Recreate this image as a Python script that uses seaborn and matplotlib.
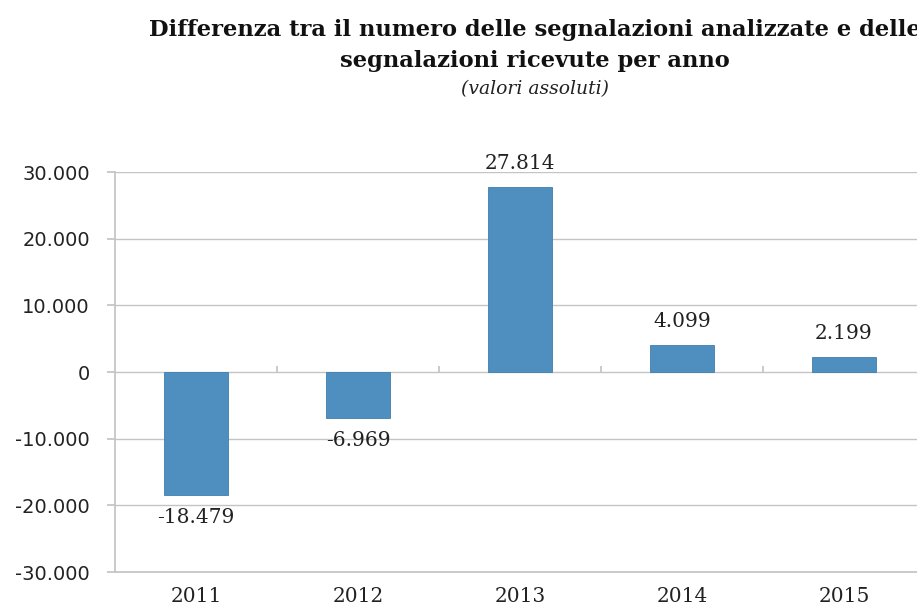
import matplotlib
matplotlib.use("Agg")
import matplotlib.pyplot as plt
import seaborn as sns
import pandas as pd

years = ["2011", "2012", "2013", "2014", "2015"]
differences = [-18479, -6969, 27814, 4099, 2199]
y_ticks = [-30000, -20000, -10000, 0, 10000, 20000, 30000]

title_line1 = "Differenza tra il numero delle segnalazioni analizzate e delle"
title_line2 = "segnalazioni ricevute per anno"
subtitle = "(valori assoluti)"


def it_number(v):
    return f"{v:,.0f}".replace(",", ".")


sns.set_theme(style="white")
plt.rcParams["font.family"] = ["DejaVu Sans"]

df = pd.DataFrame({"anno": years, "diff": differences})

fig = plt.figure(figsize=(9.17, 6.10), dpi=100)
ax = fig.add_axes([115 / 917, 38 / 610, 810 / 917, 400 / 610])

sns.barplot(data=df, x="anno", y="diff", ax=ax, color="#4f8fc0",
            saturation=1, width=0.39, edgecolor="#3f7fae", linewidth=0.6)

ax.set_ylim(-30000, 30000)
ax.set_xlim(-0.5, 4.5)
ax.set_yticks(y_ticks)
ax.set_yticklabels([it_number(v) for v in y_ticks], fontsize=14,
                   color="#222222", family="DejaVu Sans")
ax.set_xticks(range(len(years)))
ax.set_xticklabels(years, fontsize=14.5, family="DejaVu Serif", color="#222222")
ax.set_xlabel("")
ax.set_ylabel("")

grid_col = "#c4c4c4"
ax.yaxis.grid(True, color=grid_col, linewidth=1.0)
ax.set_axisbelow(True)
for side in ("top", "right"):
    ax.spines[side].set_visible(False)
ax.spines["left"].set_color(grid_col)
ax.spines["bottom"].set_color(grid_col)
ax.tick_params(axis="y", left=True, length=6, color=grid_col, pad=12)
ax.tick_params(axis="x", bottom=False, pad=5)

# category separator ticks on the zero line
sec = ax.secondary_xaxis(0.5)
sec.set_xticks([0.5, 1.5, 2.5, 3.5])
sec.set_xticklabels([])
sec.tick_params(length=4, color=grid_col, direction="out")
for sp in sec.spines.values():
    sp.set_visible(False)

for i, v in enumerate(differences):
    ax.annotate(it_number(v), xy=(i, v), xytext=(0, 10 if v >= 0 else -9),
                textcoords="offset points", ha="center",
                va="bottom" if v >= 0 else "top",
                fontsize=14.5, family="DejaVu Serif", color="#222222")

title_x = 535 / 917
fig.text(title_x, 1 - 30 / 610, title_line1, ha="center", va="center",
         fontsize=16.3, fontweight="bold", family="DejaVu Serif", color="#111111")
fig.text(title_x, 1 - 61 / 610, title_line2, ha="center", va="center",
         fontsize=16.3, fontweight="bold", family="DejaVu Serif", color="#111111")
fig.text(title_x, 1 - 89 / 610, subtitle, ha="center", va="center",
         fontsize=13.5, style="italic", family="DejaVu Serif", color="#222222")

fig.savefig("out.png", dpi=100)
